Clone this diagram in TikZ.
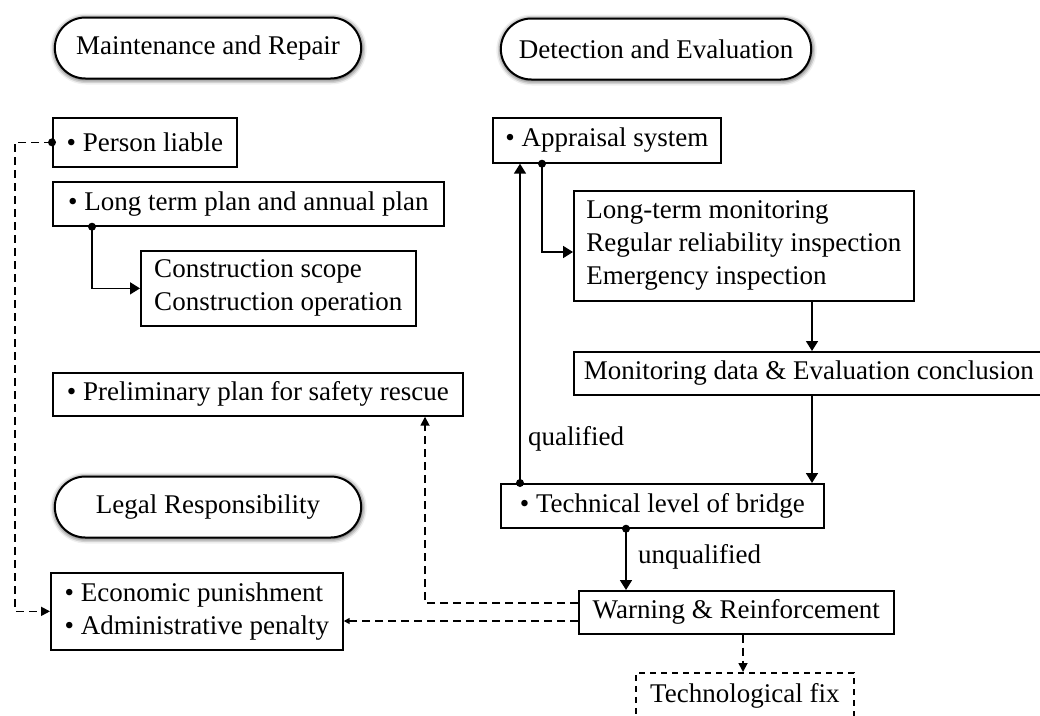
\documentclass[tikz,border=0pt]{standalone}
\usepackage{fontspec}
\setmainfont{Liberation Serif}
\usetikzlibrary{arrows.meta,shapes.misc,shadows.blur,calc}
\begin{document}
\begin{tikzpicture}[x=1pt,y=-1pt,
  every node/.style={font=\fontsize{27}{33}\selectfont},
  box/.style 2 args={draw, line width=1.7pt, anchor=north west, inner xsep=10pt,
    inner ysep=0pt, align=left, minimum width=#1, minimum height=#2},
  oval/.style={draw, line width=2pt, rounded rectangle, minimum width=313pt,
    minimum height=61pt, fill=white,
    blur shadow={shadow xshift=0.5pt, shadow yshift=-1pt, shadow blur radius=5pt, shadow opacity=95}},
  arr/.style={line width=1.7pt, -{Triangle[length=10pt,width=12pt]}},
  darr/.style={line width=1.7pt, dash pattern=on 8pt off 5pt, -{Triangle[length=9pt,width=9pt]}},
  dot/.style={fill, circle, inner sep=0pt, minimum size=8pt},
  lbl/.style={anchor=base west, inner sep=0pt}]
\useasboundingbox (0,0) rectangle (1040,715);

% section headings
\node[oval] (mr) at (208,48) {Maintenance and Repair};
\node[oval, minimum width=317pt] (de) at (656,49) {Detection and Evaluation};
\node[oval] (lr) at (208,507) {Legal Responsibility};

% left column
\node[box={184pt}{49pt}] (pl) at (52,117) {• Person liable};
\node[box={391pt}{44pt}] (lt) at (52,181) {• Long term plan and annual plan};
\node[box={275pt}{75pt}] (cs) at (140,250) {Construction scope\\Construction operation};
\node[box={410pt}{43pt}] (pr) at (52,372) {• Preliminary plan for safety rescue};
\node[box={292pt}{77pt}] (ep) at (50,572) {• Economic punishment\\• Administrative penalty};

% right column
\node[box={228pt}{45pt}] (ap) at (492,117) {• Appraisal system};
\node[box={340pt}{110pt}] (lm) at (573,190) {Long-term monitoring\\Regular reliability inspection\\Emergency inspection};
\node[box={0pt}{43pt}] (md) at (573,351) {Monitoring data \& Evaluation conclusion\hspace{20pt}};
\node[box={323pt}{44pt}] (tl) at (500,483) {• Technical level of bridge};
\node[box={315pt}{43pt}] (wr) at (578,590) {Warning \& Reinforcement};
\node[box={218pt}{46pt}, dash pattern=on 6pt off 5pt] (tf) at (635,672) {Technological fix};

% helper coordinates
\coordinate (c1) at (15,0);
\coordinate (xa) at (812,0);
\coordinate (xb) at (520,0);
\coordinate (xc) at (425,0);
\coordinate (xe) at (743,0);
\coordinate (y1) at (0,603);
\coordinate (y2) at (0,621);

% person liable -> punishment
\node[dot] (d1) at (pl.west) {};
\draw[darr] (d1.center) -- (d1 -| c1) |- (ep.west);

% long term plan -> construction
\node[dot] (d2) at ($(lt.south west)+(40,0)$) {};
\draw[arr] (d2.center) |- (cs.west);

% appraisal -> inspections
\node[dot] (d3) at ($(ap.south west)+(50,0)$) {};
\coordinate (c3) at ($(lm.north west)+(0,62)$);
\draw[arr] (d3.center) |- (c3);

\draw[arr] (lm.south -| xa) -- (md.north -| xa);
\draw[arr] (md.south -| xa) -- (tl.north -| xa);

% qualified loop back
\node[dot] (d4) at (tl.north -| xb) {};
\draw[arr] (d4.center) -- (ap.south -| xb);
\node[lbl] (q) at (528,445) {qualified};

% unqualified
\node[dot] (d5) at ($(tl.south west)+(126,0)$) {};
\draw[arr] (d5.center) -- (wr.north -| d5);
\node[lbl] (uq) at (638,563) {unqualified};

% warning outputs
\draw[darr] (wr.west |- y1) -| (pr.south -| xc);
\draw[darr, -{Triangle[length=6pt,width=6pt]}] (wr.west |- y2) -- (ep.east |- y2);
\draw[darr] (wr.south -| xe) -- (tf.north -| xe);
\end{tikzpicture}
\end{document}
